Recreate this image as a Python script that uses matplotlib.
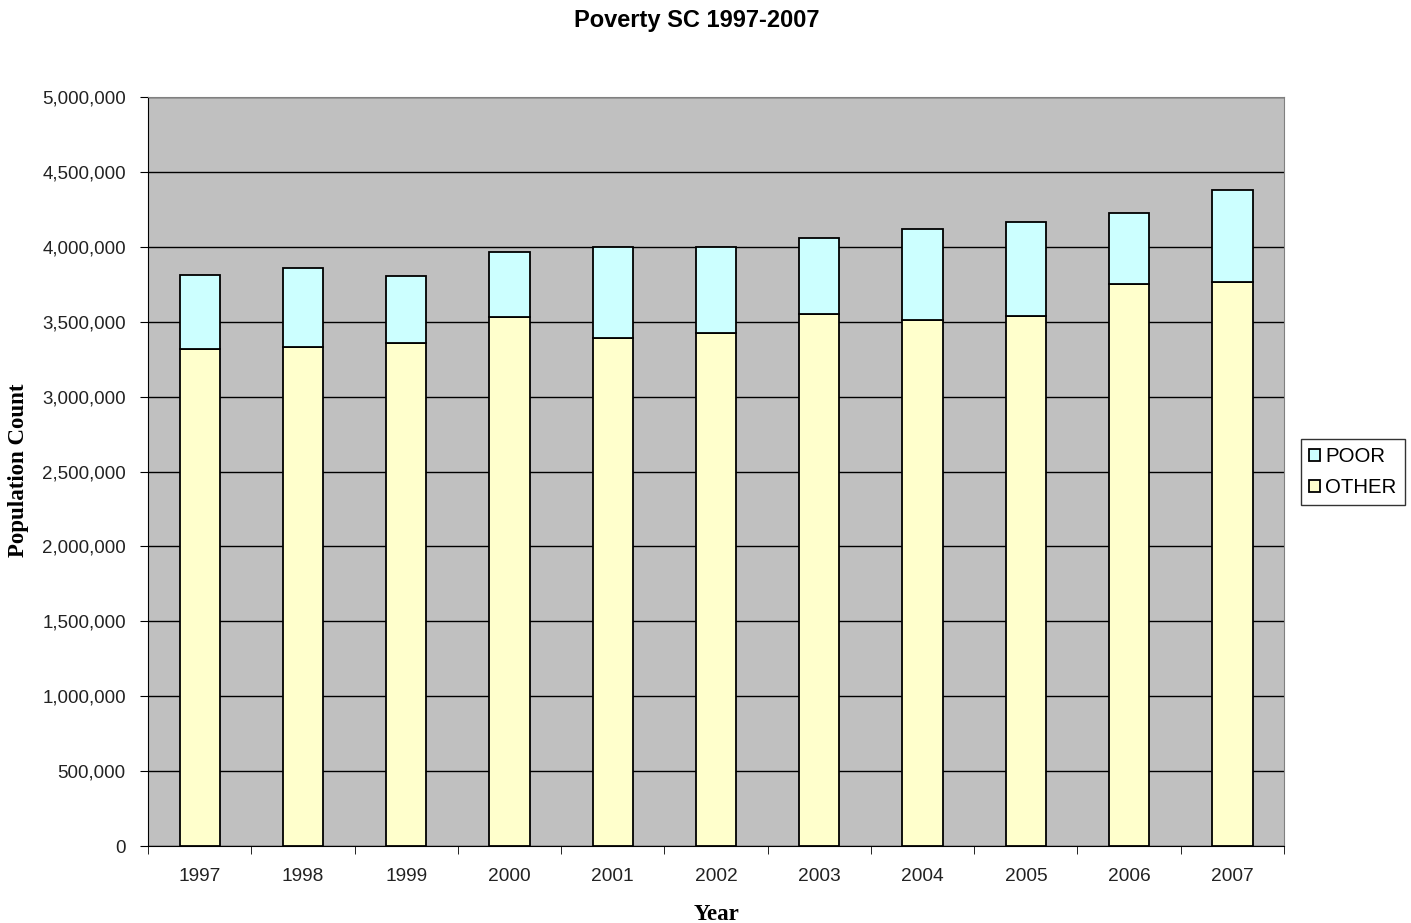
import numpy as np
import matplotlib
matplotlib.use("Agg")
import matplotlib.pyplot as plt
from matplotlib.ticker import FuncFormatter, FixedLocator

years = ["1997", "1998", "1999", "2000", "2001", "2002", "2003", "2004", "2005", "2006", "2007"]
other = [3318000, 3331000, 3358000, 3531000, 3391000, 3425000, 3551000, 3511000, 3538000, 3752000, 3765000]
poor = [494000, 527000, 447000, 434000, 608000, 574000, 508000, 608000, 628000, 474000, 614000]

plt.rcParams["font.family"] = ["Liberation Sans", "DejaVu Sans"]
serif = ["Liberation Serif", "DejaVu Serif"]

fig = plt.figure(figsize=(14.11, 9.23), dpi=100)
ax = fig.add_axes([0.1049, 0.0834, 0.8051, 0.8115])
ax.set_facecolor("#c0c0c0")

x = np.arange(len(years))
ax.bar(x, other, width=0.39, color="#ffffcc", edgecolor="black", linewidth=1.3, label="OTHER", zorder=3)
ax.bar(x, poor, width=0.39, bottom=other, color="#ccffff", edgecolor="black", linewidth=1.3, label="POOR", zorder=3)

ax.set_xlim(-0.5, len(years) - 0.5)
ax.set_ylim(0, 5000000)
ax.set_yticks(np.arange(0, 5000001, 500000))
ax.yaxis.set_major_formatter(FuncFormatter(lambda v, p: f"{int(v):,}"))
ax.yaxis.grid(True, color="black", linewidth=1.0, zorder=1)
ax.set_axisbelow(True)

ax.set_xticks(x)
ax.set_xticklabels(years)
ax.tick_params(axis="x", which="major", length=0, pad=16, labelsize=13.8, colors="#222222")
ax.xaxis.set_minor_locator(FixedLocator(np.arange(-0.5, len(years), 1.0)))
ax.tick_params(axis="x", which="minor", length=6, direction="out", color="black")
ax.tick_params(axis="y", length=6, direction="out", labelsize=13.5, pad=10, labelcolor="#222222")

for s in ["top", "right"]:
    ax.spines[s].set_color("#808080")
ax.spines["left"].set_color("black")
ax.spines["bottom"].set_color("black")

fig.text(696.5 / 1411, 1 - 20 / 923, "Poverty SC 1997-2007", fontsize=17, fontweight="bold",
         ha="center", va="center")
ax.set_xlabel("Year", fontsize=16.5, fontweight="bold", family=serif, va="center")
ax.set_ylabel("Population Count", fontsize=16.5, fontweight="bold", family=serif, va="center")
ax.xaxis.set_label_coords(0.5, -0.091)
ax.yaxis.set_label_coords(-0.1144, 0.502)

handles, labels = ax.get_legend_handles_labels()
leg = fig.legend(handles[::-1], labels[::-1], loc="center left", bbox_to_anchor=(0.922, 0.4886),
                 fontsize=14.7, frameon=True, fancybox=False, edgecolor="black",
                 handlelength=0.55, handleheight=0.55, handletextpad=0.25, borderpad=0.4,
                 labelspacing=0.6, borderaxespad=0)
leg.get_frame().set_linewidth(1.0)

fig.savefig("out.png", dpi=100)
